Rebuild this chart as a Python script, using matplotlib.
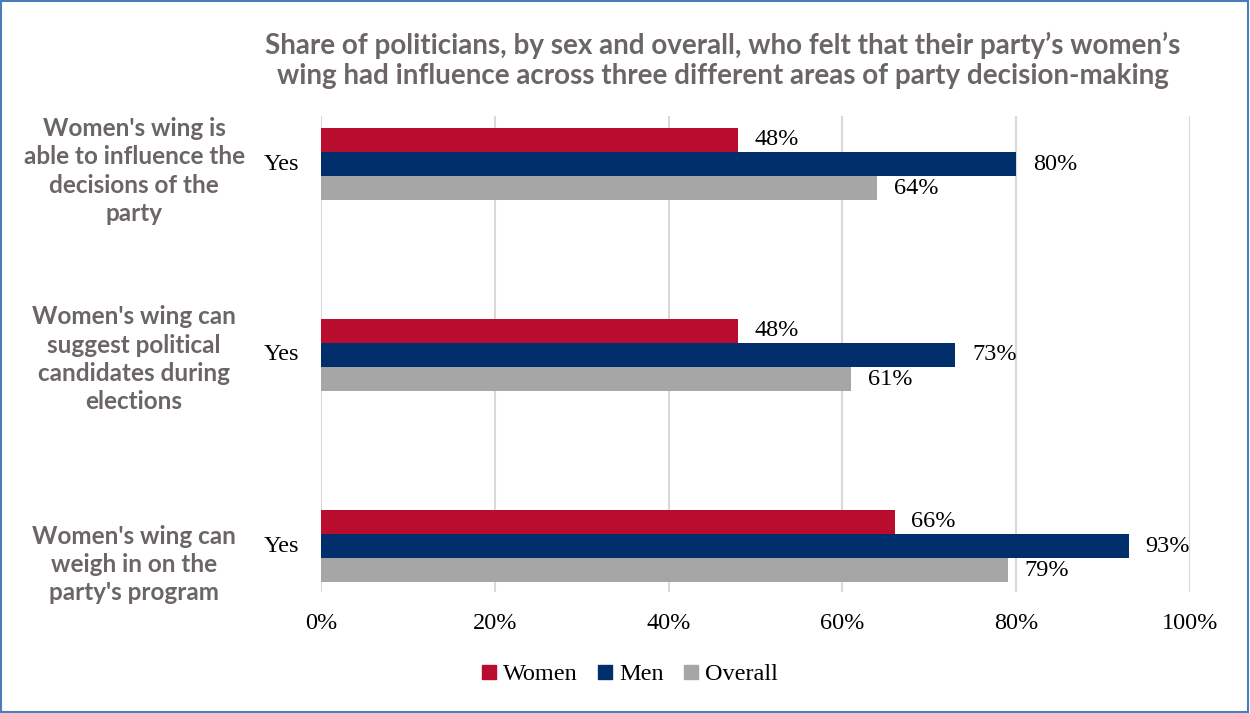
import matplotlib
matplotlib.use("Agg")
import matplotlib.pyplot as plt
from matplotlib.patches import Rectangle, Patch
import numpy as np

title = ("Share of politicians, by sex and overall, who felt that their party\u2019s women\u2019s\n"
         "wing had influence across three different areas of party decision-making")
categories = ["Women's wing is\nable to influence the\ndecisions of the\nparty",
              "Women's wing can\nsuggest political\ncandidates during\nelections",
              "Women's wing can\nweigh in on the\nparty's program"]
sub_label = "Yes"
series_names = ["Women", "Men", "Overall"]
women = [48, 48, 66]
men = [80, 73, 93]
overall = [64, 61, 79]
xticks = [0, 20, 40, 60, 80, 100]
xtick_labels = ["0%", "20%", "40%", "60%", "80%", "100%"]

colors = ["#BA0C2F", "#002F6C", "#A6A6A6"]
text_gray = "#6B6566"
serif = "Liberation Serif"
sans = "Lato"
fs = 17.5
label_shift_pt = [-5, -3, -13.5]  # vertical nudges of category labels (points)

fig = plt.figure(figsize=(12.5, 7.13), dpi=100)
ax = fig.add_axes([321/1250, 1-592/713, (1190-321)/1250, (592-116)/713])

y = np.arange(len(categories))
h = 0.126
values = [women, men, overall]
offsets = [-h, 0, h]
for vals, off, col, name in zip(values, offsets, colors, series_names):
    bars = ax.barh(y + off, vals, height=h, color=col, label=name, zorder=3)
    for b, v in zip(bars, vals):
        ax.text(v + 1.9, b.get_y() + b.get_height()/2, f"{v}%", va="center", ha="left",
                fontsize=fs, family=serif, color="black")

ax.set_xlim(0, 100)
ax.set_ylim(2 + 46/191, -48/191)
ax.set_xticks(xticks)
ax.set_xticklabels(xtick_labels, family=serif, fontsize=fs)
ax.tick_params(axis="x", length=0, pad=15)
ax.set_yticks([])
ax.grid(axis="x", color="#D9D9D9", linewidth=1.5, zorder=0)
for s in ax.spines.values():
    s.set_visible(False)

for yi, cat, dy in zip(y, categories, label_shift_pt):
    ax.text(-0.025, yi, sub_label, transform=ax.get_yaxis_transform(), ha="right", va="center",
            family=serif, fontsize=fs)
    ax.annotate(cat, xy=(-0.215, yi), xycoords=ax.get_yaxis_transform(),
                xytext=(0, dy), textcoords="offset points", ha="center", va="center",
                family=sans, fontweight="bold", fontsize=17.5, color=text_gray, linespacing=1.27,
                annotation_clip=False)

fig.text(723/1250, 1-60/713, title, ha="center", va="center", family=sans, fontweight="bold",
         fontsize=20, color=text_gray, linespacing=1.2)

handles = [Patch(color=c, label=n) for c, n in zip(colors, series_names)]
fig.legend(handles=handles, loc="center", bbox_to_anchor=(630/1250, 1-675/713), ncol=3, frameon=False,
           prop={"family": serif, "size": fs}, handlelength=0.55, handleheight=0.55,
           handletextpad=0.3, columnspacing=0.85)

fig.patches.append(Rectangle((0.001, 0.002), 0.997, 0.996, transform=fig.transFigure, fill=False,
                             edgecolor="#4A7EBB", linewidth=1.5))

fig.savefig("out.png", dpi=100)
